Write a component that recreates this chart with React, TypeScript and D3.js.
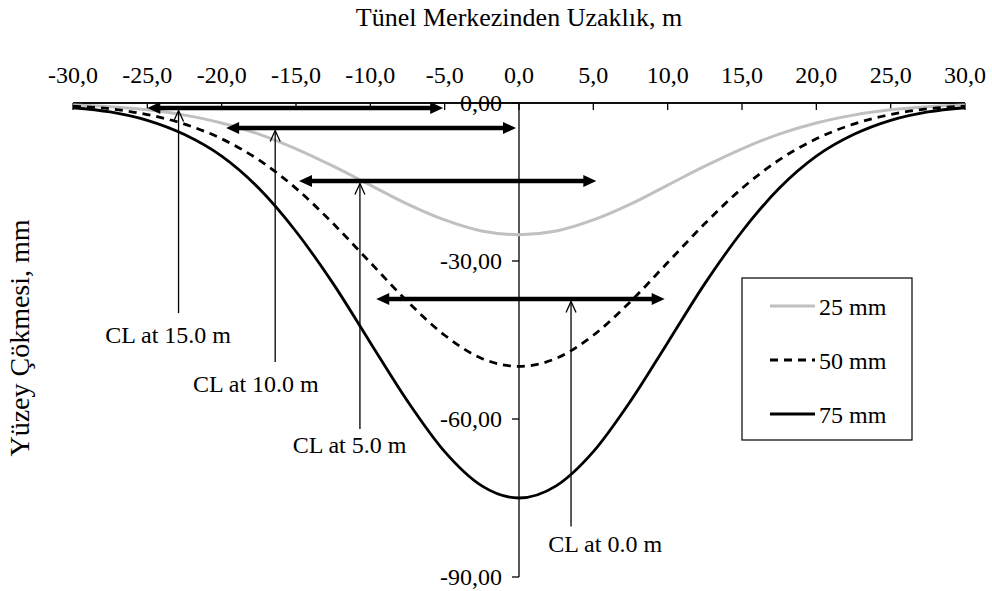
import React from "react";
import * as d3 from "d3";

const xValues = [-30, -27.5, -25, -22.5, -20, -17.5, -15, -12.5, -10, -7.5, -5, -2.5, 0, 2.5, 5, 7.5, 10, 12.5, 15, 17.5, 20, 22.5, 25, 27.5, 30];
const s25 = [-0.4, -0.7, -1.3, -2.3, -3.8, -5.9, -8.7, -12.0, -15.6, -19.2, -22.2, -24.3, -25.0, -24.3, -22.2, -19.2, -15.6, -12.0, -8.7, -5.9, -3.8, -2.3, -1.3, -0.7, -0.4];
const s50 = [-0.6, -1.1, -2.2, -4.0, -6.8, -10.8, -16.2, -22.9, -30.3, -37.7, -44.1, -48.5, -50.0, -48.5, -44.1, -37.7, -30.3, -22.9, -16.2, -10.8, -6.8, -4.0, -2.2, -1.1, -0.6];
const s75 = [-0.9, -1.7, -3.3, -6.0, -10.1, -16.2, -24.4, -34.3, -45.5, -56.6, -66.2, -72.7, -75.0, -72.7, -66.2, -56.6, -45.5, -34.3, -24.4, -16.2, -10.1, -6.0, -3.3, -1.7, -0.9];

const seriesNames = ["25 mm", "50 mm", "75 mm"];
const xTicks = [-30, -25, -20, -15, -10, -5, 0, 5, 10, 15, 20, 25, 30];
const yTicks = [0, -30, -60, -90];

// double-headed arrows: [x1, x2, y]
const arrowX1 = [-25.0, -19.7, -14.8, -9.6];
const arrowX2 = [-5.1, -0.2, 5.2, 9.8];
const arrowY = [-0.95, -4.75, -14.8, -37.2];

// CL pointer lines
const clLabels = ["CL at 15.0 m", "CL at 10.0 m", "CL at 5.0 m", "CL at 0.0 m"];
const clX = [-22.9, -16.4, -10.7, 3.5];
const clBottom = [-39.9, -49.2, -61.9, -80.4];
const clLabelX = [-23.6, -17.7, -11.4, 5.8];
const clLabelY = [-45.6, -54.9, -66.5, -85.3];

const W = 992;
const H = 591;
const FONT = "'Liberation Serif', 'Times New Roman', 'DejaVu Serif', serif";

export default function App() {
  const x = d3.scaleLinear().domain([-30, 30]).range([73, 965]);
  const y = d3.scaleLinear().domain([0, -90]).range([103, 577]);

  const line = d3
    .line<number>()
    .x((_, i) => x(xValues[i]))
    .y((d) => y(d))
    .curve(d3.curveMonotoneX);

  const series = [
    { name: seriesNames[0], values: s25, stroke: "#c0c0c0", dash: undefined as string | undefined, width: 3 },
    { name: seriesNames[1], values: s50, stroke: "#000", dash: "8,6", width: 2.8 },
    { name: seriesNames[2], values: s75, stroke: "#000", dash: undefined, width: 2.8 },
  ];

  const headL = 13;
  const headHW = 6;

  return (
    <svg width={W} height={H} style={{ position: "absolute", left: 0, top: 0, background: "#fff" }} fontFamily={FONT}>
      <rect width={W} height={H} fill="#fff" />
      {/* Title */}
      <text x={x(0)} y={26} textAnchor="middle" fontSize={26}>
        Tünel Merkezinden Uzaklık, m
      </text>
      {/* Y title */}
      <text transform={`translate(29,338) rotate(-90)`} textAnchor="middle" fontSize={28}>
        Yüzey Çökmesi, mm
      </text>

      {/* X axis */}
      <line x1={x(-30)} x2={x(30)} y1={y(0)} y2={y(0)} stroke="#000" strokeWidth={1.3} />
      {xTicks.map((t) => (
        <g key={t}>
          <line x1={x(t)} x2={x(t)} y1={y(0)} y2={y(0) + 7} stroke="#000" strokeWidth={1.3} />
          <text x={x(t)} y={83} textAnchor="middle" fontSize={24}>
            {d3.format(".1f")(t).replace(".", ",").replace("−", "-")}
          </text>
        </g>
      ))}

      {/* Y axis */}
      <line x1={x(0)} x2={x(0)} y1={y(0)} y2={y(-90)} stroke="#000" strokeWidth={1.3} />
      {yTicks.map((t) => (
        <g key={t}>
          <line x1={x(0) - 7} x2={x(0)} y1={y(t)} y2={y(t)} stroke="#000" strokeWidth={1.3} />
          <text x={x(0) - 17} y={y(t) + 8} textAnchor="end" fontSize={24}>
            {d3.format(".2f")(t).replace(".", ",").replace("−", "-")}
          </text>
        </g>
      ))}
      {/* redraw x axis line over the 0,00 label */}
      <line x1={x(-30)} x2={x(30)} y1={y(0)} y2={y(0)} stroke="#000" strokeWidth={1.3} />

      {/* Curves */}
      {series.map((s) => (
        <path
          key={s.name}
          d={line(s.values) || ""}
          fill="none"
          stroke={s.stroke}
          strokeWidth={s.width}
          strokeDasharray={s.dash}
        />
      ))}

      {/* Double arrows */}
      {arrowY.map((ay, i) => {
        const x1 = x(arrowX1[i]);
        const x2 = x(arrowX2[i]);
        const yy = y(ay);
        return (
          <g key={i}>
            <line x1={x1 + headL - 1} x2={x2 - headL + 1} y1={yy} y2={yy} stroke="#000" strokeWidth={4.5} />
            <polygon points={`${x1},${yy} ${x1 + headL},${yy - headHW} ${x1 + headL},${yy + headHW}`} fill="#000" />
            <polygon points={`${x2},${yy} ${x2 - headL},${yy - headHW} ${x2 - headL},${yy + headHW}`} fill="#000" />
          </g>
        );
      })}

      {/* CL pointers */}
      {clX.map((cx, i) => {
        const px = x(cx);
        const top = y(arrowY[i]) + 2.5;
        const bot = y(clBottom[i]);
        return (
          <g key={i}>
            <line x1={px} x2={px} y1={top} y2={bot} stroke="#000" strokeWidth={1.3} />
            <polyline
              points={`${px - 5},${top + 11} ${px},${top} ${px + 5},${top + 11}`}
              fill="none"
              stroke="#000"
              strokeWidth={1.3}
            />
            <text x={x(clLabelX[i])} y={y(clLabelY[i])} textAnchor="middle" fontSize={24}>
              {clLabels[i]}
            </text>
          </g>
        );
      })}

      {/* Legend */}
      <rect x={742} y={278} width={170} height={162} fill="#fff" stroke="#000" strokeWidth={1.2} />
      {series.map((s, i) => {
        const ly = 306 + i * 54;
        return (
          <g key={s.name}>
            <line x1={770} x2={815} y1={ly} y2={ly} stroke={s.stroke} strokeWidth={s.width} strokeDasharray={s.dash} />
            <text x={819} y={ly + 9} fontSize={24}>
              {s.name}
            </text>
          </g>
        );
      })}
    </svg>
  );
}
